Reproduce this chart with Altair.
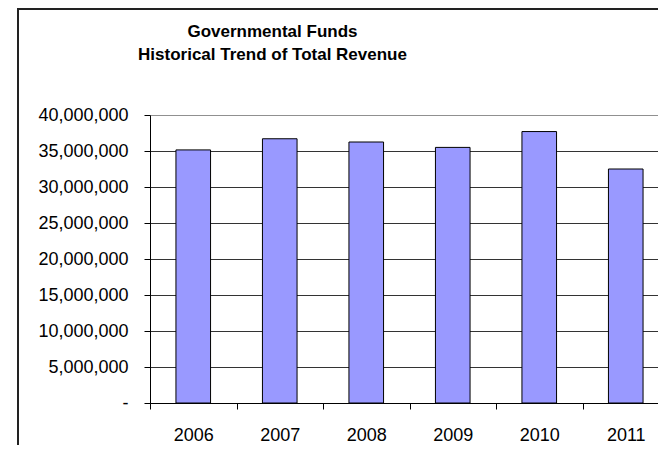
import altair as alt
import pandas as pd

# ---- data ----
years = ["2006", "2007", "2008", "2009", "2010", "2011"]
revenue = [35150000, 36700000, 36250000, 35500000, 37700000, 32500000]
y_ticks = [0, 5000000, 10000000, 15000000, 20000000, 25000000, 30000000, 35000000, 40000000]
title_lines = ["Governmental Funds", "Historical Trend of Total Revenue"]

df = pd.DataFrame({"Year": years, "Revenue": revenue})

FONT = "Liberation Sans"
W, H = 508, 288
X_RANGE = 519  # the category axis runs a little past the visible window, as in the reference

bars = alt.Chart(df).mark_bar(
    fill="#9999FF", stroke="#000000", strokeWidth=1, width=alt.RelativeBandSize(0.4)
).encode(
    x=alt.X(
        "Year:N",
        sort=years,
        scale=alt.Scale(paddingInner=0, paddingOuter=0, range=[0, X_RANGE]),
        axis=alt.Axis(
            title=None, labelAngle=0, tickBand="extent", grid=False,
            domainColor="#000000", tickColor="#000000", tickSize=6,
            labelFontSize=18, labelFont=FONT, labelColor="#000000",
            labelPadding=17, labelBaseline="top",
        ),
    ),
    y=alt.Y(
        "Revenue:Q",
        scale=alt.Scale(domain=[0, 40000000], nice=False),
        axis=alt.Axis(
            title=None, values=y_ticks,
            labelExpr="datum.value == 0 ? '-' : format(datum.value, ',')",
            labelFontSize=18, labelFont=FONT, labelColor="#000000",
            labelPadding=16, tickSize=6, tickColor="#000000",
            domainColor="#000000",
            grid=True,
            gridColor={"condition": {"test": "datum.value == 40000000", "value": "#909090"}, "value": "#333333"},
            gridWidth=1,
        ),
    ),
)

frame = alt.Chart(alt.Data(values=[{"k": 1}])).mark_rect(
    fillOpacity=0, stroke="#222222", strokeWidth=2
).encode(
    x=alt.value(-132),
    x2=alt.value(W + 40),
    y=alt.value(-106),
    y2=alt.value(H + 80),
)

title = alt.Chart(alt.Data(values=[{"t": "\n".join(title_lines)}])).mark_text(
    lineBreak="\n", lineHeight=23, fontSize=17, fontWeight="bold", font=FONT,
    align="center", baseline="alphabetic", color="#000000",
).encode(
    x=alt.value(122.5),
    y=alt.value(-78),
    text="t:N",
)

chart = alt.layer(bars, frame, title).properties(
    width=W,
    height=H,
    autosize=alt.AutoSizeParams(type="none"),
    padding={"left": 142, "top": 107, "right": 0, "bottom": 42},
).configure_view(
    fill="#C0C0C0", stroke="transparent", strokeWidth=0
).configure(background="#FFFFFF")

chart.save("out.html", embed_options={"renderer": "svg", "actions": False})
